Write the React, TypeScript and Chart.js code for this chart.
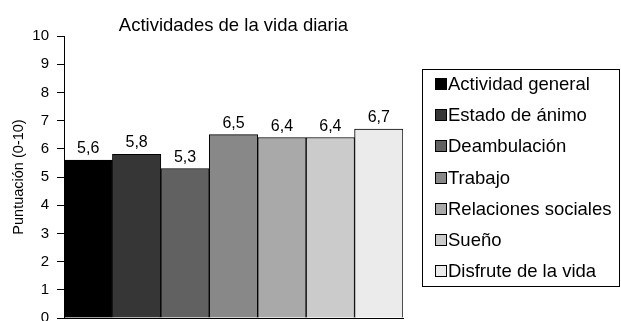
import React, { useEffect, useRef } from "react";
import { Chart, registerables } from "chart.js";

Chart.register(...registerables);

const title = "Actividades de la vida diaria";
const yTitle = "Puntuación (0-10)";
const categories = [
  "Actividad general",
  "Estado de ánimo",
  "Deambulación",
  "Trabajo",
  "Relaciones sociales",
  "Sueño",
  "Disfrute de la vida",
];
const scores = [5.6, 5.8, 5.3, 6.5, 6.4, 6.4, 6.7];
const barColors = ["#000000", "#363636", "#616161", "#888888", "#a9a9a9", "#cbcbcb", "#ebebeb"];
const yMin = 0;
const yMax = 10;
const yStep = 1;

const FONT = "'Liberation Sans', Arial, Helvetica, sans-serif";

const fmt = (v: number) => v.toFixed(1).replace(".", ",");

// Value labels above each bar
const valueLabels = {
  id: "valueLabels",
  afterDatasetsDraw(chart: any) {
    const ctx = chart.ctx;
    const meta = chart.getDatasetMeta(0);
    ctx.save();
    ctx.font = `16px ${FONT}`;
    ctx.fillStyle = "#000";
    ctx.textAlign = "center";
    ctx.textBaseline = "alphabetic";
    meta.data.forEach((el: any, i: number) => {
      ctx.fillText(fmt(chart.data.datasets[0].data[i]), el.x, el.y - 7);
    });
    ctx.restore();
  },
};

// Title centred over the plot area
const plotTitle = {
  id: "plotTitle",
  afterDraw(chart: any) {
    const { ctx, chartArea } = chart;
    ctx.save();
    ctx.font = `18.5px ${FONT}`;
    ctx.fillStyle = "#000";
    ctx.textAlign = "center";
    ctx.textBaseline = "alphabetic";
    ctx.fillText(title, (chartArea.left + chartArea.right) / 2, 31);
    ctx.restore();
  },
};

// Boxed legend on the right, vertically centred on the plot
const boxLegend = {
  id: "boxLegend",
  afterDraw(chart: any) {
    const { ctx, chartArea, width } = chart;
    const labels: string[] = chart.data.labels;
    const colors: string[] = chart.data.datasets[0].backgroundColor;
    const rowH = 31.2;
    const boxH = 217;
    const left = 422.5;
    const right = width - 1.5;
    const midY = (chartArea.top + chartArea.bottom) / 2;
    const top = Math.round(midY - boxH / 2) + 0.5;
    ctx.save();
    ctx.strokeStyle = "#000";
    ctx.lineWidth = 1;
    ctx.strokeRect(left, top, right - left, boxH);
    ctx.font = `18.5px ${FONT}`;
    ctx.textBaseline = "alphabetic";
    ctx.textAlign = "left";
    labels.forEach((lab, i) => {
      const cy = top + 14.5 + rowH * i;
      const sw = 12;
      const sy = Math.round(cy - sw / 2);
      ctx.fillStyle = colors[i];
      ctx.fillRect(435, sy, sw, sw);
      ctx.strokeStyle = "#000";
      ctx.strokeRect(435.5, sy + 0.5, sw - 1, sw - 1);
      ctx.fillStyle = "#000";
      ctx.fillText(lab, 448, sy + sw);
    });
    ctx.restore();
  },
};

export default function App() {
  const ref = useRef<HTMLCanvasElement>(null);

  useEffect(() => {
    if (!ref.current) return;
    const chart = new Chart(ref.current, {
      type: "bar",
      data: {
        labels: categories,
        datasets: [
          {
            data: scores,
            backgroundColor: barColors,
            borderColor: "#000",
            borderWidth: 1,
            categoryPercentage: 1,
            barPercentage: 1,
          },
        ],
      },
      options: {
        responsive: false,
        animation: false,
        devicePixelRatio: 1,
        layout: { padding: { top: 36, bottom: 3, left: 0, right: 218 } },
        plugins: {
          legend: { display: false },
          title: { display: false },
          tooltip: { enabled: false },
        },
        scales: {
          x: {
            ticks: { display: false },
            grid: { display: true, drawOnChartArea: false, drawTicks: false },
            border: { display: true, color: "#000", width: 1 },
            afterFit(scale: any) {
              scale.height = 0;
              scale.paddingLeft = 0;
              scale.paddingRight = 0;
            },
          },
          y: {
            min: yMin,
            max: yMax,
            ticks: {
              stepSize: yStep,
              padding: 8,
              color: "#000",
              font: { family: FONT, size: 15 },
              callback: (v: any) => String(v),
            },
            grid: {
              drawOnChartArea: false,
              drawTicks: true,
              tickLength: 7,
              color: "#000",
            },
            border: { display: true, color: "#000", width: 1 },
            title: {
              display: true,
              text: yTitle,
              color: "#000",
              font: { family: FONT, size: 14.5 },
              padding: { top: 10, bottom: 0 },
            },
            afterFit(scale: any) {
              scale.width = 64;
              scale.paddingTop = 0;
              scale.paddingBottom = 0;
            },
          },
        },
      },
      plugins: [valueLabels, plotTitle, boxLegend],
    });
    return () => chart.destroy();
  }, []);

  return (
    <div style={{ position: "fixed", left: 0, top: 0, width: 621, height: 321, background: "#fff" }}>
      <canvas ref={ref} width={621} height={321} />
    </div>
  );
}
